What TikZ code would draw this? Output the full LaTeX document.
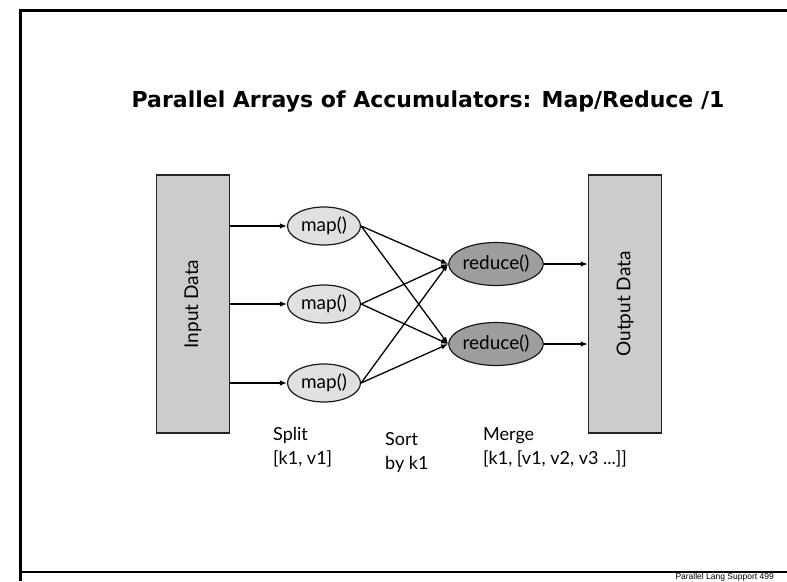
\documentclass[tikz,border=0pt]{standalone}
\usepackage{fontspec}
\usetikzlibrary{shapes.geometric,arrows.meta,positioning}
\newfontfamily\titlefont{DejaVu Sans}
\newfontfamily\gillfont{Lato}
\newfontfamily\footfont{Liberation Sans}

\begin{document}
\begin{tikzpicture}[
                    x=1pt, y=-1pt,
                    every node/.style={
                        font=\gillfont\fontsize{19}{22}\selectfont,
                        inner sep=0pt
                    },
                    databox/.style={
                        draw=black!85,
                        fill=black!20,
                        line width=1.4pt,
                        minimum width=73pt,
                        minimum height=258pt
                    },
                    mapnode/.style={
                        ellipse,
                        draw=black!90,
                        fill=black!12,
                        line width=1.2pt,
                        minimum width=73pt,
                        minimum height=38pt
                    },
                    rednode/.style={
                        ellipse,
                        draw=black!90,
                        fill=black!38,
                        line width=1.2pt,
                        minimum width=92pt,
                        minimum height=43pt
                    },
                    arr/.style={
                        line width=1.3pt,
                        -{Latex[length=7pt,width=5.5pt]}
                    },
                    caption/.style={
                        align=left,
                        anchor=north west,
                        font=\gillfont\fontsize{18}{24}\selectfont
                    }
                ]
                    \useasboundingbox (0,0) rectangle (787,581);

                    % Frame
                    \draw[line width=3pt] (20,581) -- (20,10.5) -- (787,10.5);
                    \draw[line width=1.3pt] (20,572) -- (787,572);
                    \node[font=\footfont\fontsize{8.5}{10}\selectfont, anchor=base east] (foot) at (774,579.5) {Parallel Lang Support 499};

                    % Title
                    \node[font=\titlefont\bfseries\fontsize{22}{26}\selectfont] (title) at (428,102) {Parallel Arrays of Accumulators: Map/Reduce /1};

                    % Data boxes
                    \node[databox, label={[rotate=90]center:Input Data}] (in) at (193,304) {};
                    \node[databox, label={[rotate=90]center:Output Data}] (out) at (625,304) {};

                    % Map and reduce nodes
                    \node[mapnode] (m1) at (324,226) {map()};
                    \node[mapnode] (m2) at (324,304) {map()};
                    \node[mapnode] (m3) at (324,383) {map()};
                    \node[rednode] (r1) at (496,264) {reduce()};
                    \node[rednode] (r2) at (496,344) {reduce()};

                    % Edges
                    \draw[arr] (in.east |- m1) -- (m1);
                    \draw[arr] (in.east |- m2) -- (m2);
                    \draw[arr] (in.east |- m3) -- (m3);
                    \foreach \m in {m1,m2,m3}{
                        \draw[arr] (\m.east) -- (r1.west);
                        \draw[arr] (\m.east) -- (r2.west);
                    }
                    \draw[arr] (r1) -- (out.west |- r1);
                    \draw[arr] (r2) -- (out.west |- r2);

                    % Captions
                    \node[caption] (split) at (273,427) {Split\\{}[k1, v1]};
                    \node[caption] (sort) at (385,432) {Sort\\by k1};
                    \node[caption] (merge) at (483,427) {Merge\\{}[k1, [v1, v2, v3 ...]]};
                \end{tikzpicture}
\end{document}
